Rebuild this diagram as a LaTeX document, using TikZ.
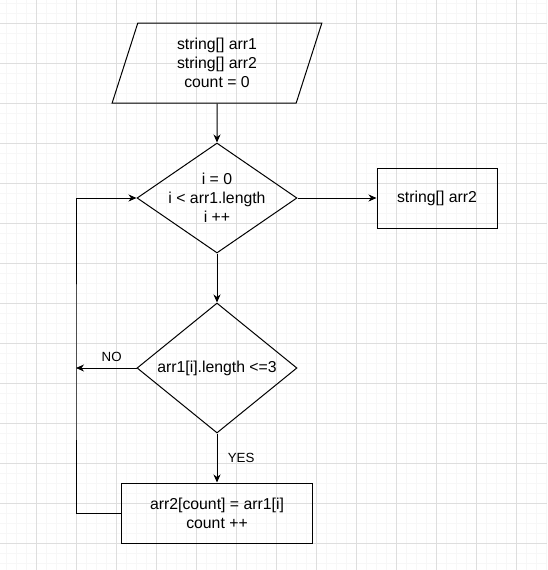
\documentclass[tikz,border=0pt]{standalone}
\usepackage{fontspec}
\setmainfont{Liberation Sans}
\usetikzlibrary{shapes.geometric, arrows.meta}
\definecolor{gridmajor}{RGB}{222,222,222}
\definecolor{gridminor}{RGB}{247,247,247}
\tikzstyle{minorline} = [gridminor, line width=0.8pt]
\tikzstyle{majorline} = [gridmajor, line width=0.9pt]
\tikzstyle{inputoutput} = [
    trapezium,
    trapezium left angle=76,
    trapezium right angle=104,
    trapezium stretches=true,
    minimum width=210pt,
    minimum height=80pt,
    align=center,
    line width=1pt,
    draw=black
]
\tikzstyle{process} = [
    rectangle,
    minimum height=60pt,
    align=center,
    line width=1pt,
    draw=black
]
\tikzstyle{decision} = [
    diamond,
    minimum width=160pt,
    inner sep=0pt,
    line width=1pt,
    draw=black
]
\tikzstyle{edgelabel} = [font=\fontsize{13.3}{16}\selectfont]
\tikzstyle{arrow} = [line width=1pt,-{Stealth[length=8pt,width=7pt,inset=2.5pt]}]

\begin{document}
\begin{tikzpicture}[x=1pt, y=-1pt, font=\fontsize{15.8}{19}\selectfont]

\useasboundingbox (0,0) rectangle (547,570);

% background grid
\foreach \x in {6,16,...,546} \draw[minorline] (\x,0) -- (\x,570);
\foreach \y in {3,13,...,563} \draw[minorline] (0,\y) -- (547,\y);
\foreach \x in {36,76,...,516} \draw[majorline] (\x,0) -- (\x,570);
\foreach \y in {23,63,...,543} \draw[majorline] (0,\y) -- (547,\y);

\node (input) [inputoutput] at (217,63)
{string[] arr1\\string[] arr2\\count = 0};

\node (loop) [decision, minimum height=110pt, node distance=135pt, below of=input] {};
\node (looptext) [align=center] at (loop)
{i = 0\\i < arr1.length\\i ++};

\node (check) [decision, minimum height=130pt, node distance=170pt, below of=loop] {};
\node (checktext) at (check)
{arr1[i].length <=3};

\node (assign) [process, minimum width=191pt, node distance=145pt, below of=check]
{arr2[count] = arr1[i]\\count ++};

\node (output) [process, minimum width=120pt, node distance=220pt, right of=loop]
{string[] arr2};

\coordinate (back) at (76,368);

\draw [arrow] (input.south) -- (loop.north);
\draw [arrow] (loop.east) -- (output.west);
\draw [arrow] (loop.south) -- (check.north);
\draw [arrow] (check.south) -- node[edgelabel, right=7pt] {YES} (assign.north);
\draw [arrow] (check.west) -- node[edgelabel, above=3pt, pos=0.41] {NO} (back);
\draw [arrow] (assign.west) -| (back) |- (loop.west);

\end{tikzpicture}
\end{document}
